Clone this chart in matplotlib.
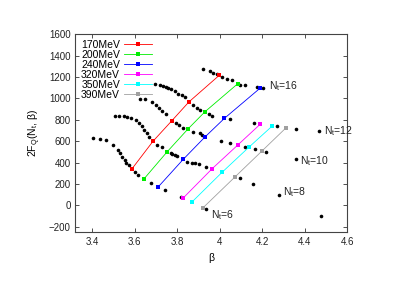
import numpy as np
import matplotlib
matplotlib.use('Agg')
import matplotlib.pyplot as plt

plt.rcParams['font.family'] = ['Liberation Sans', 'DejaVu Sans']
plt.rcParams['font.size'] = 7
plt.rcParams['mathtext.fontset'] = 'custom'
plt.rcParams['mathtext.rm'] = 'Liberation Sans'
plt.rcParams['mathtext.it'] = 'Liberation Sans'

# black dots: free energy curves for each N_t
b6 = [3.401, 3.438, 3.466, 3.495, 3.520, 3.529, 3.540, 3.552, 3.560, 3.572,
      3.600, 3.616, 3.676, 3.743, 3.817, 3.934]
f6 = [626, 616, 610, 566, 516, 485, 454, 422, 400, 375, 310, 288, 210, 143, 78, -35]

b8 = [3.506, 3.525, 3.548, 3.564, 3.580, 3.604, 3.620, 3.635, 3.643, 3.656,
      3.667, 3.706, 3.730, 3.768, 3.777, 3.789, 3.800, 3.844, 3.867, 3.883,
      3.904, 3.935, 4.097, 4.157, 4.278, 4.476]
f8 = [835, 838, 832, 823, 813, 799, 774, 737, 705, 673,
      641, 563, 541, 485, 477, 471, 461, 408, 399, 393,
      384, 362, 252, 204, 100, -100]

b10 = [3.623, 3.646, 3.683, 3.699, 3.714, 3.730, 3.746, 3.793, 3.808, 3.827,
       3.874, 3.907, 3.917, 4.007, 4.046, 4.120, 4.165, 4.220, 4.357]
f10 = [997, 994, 963, 934, 909, 878, 853, 770, 751, 723,
       685, 675, 657, 597, 582, 547, 530, 500, 432]

b12 = [3.694, 3.718, 3.732, 3.745, 3.758, 3.772, 3.788, 3.805, 3.820, 3.835,
       3.874, 3.893, 3.907, 3.950, 3.964, 4.050, 4.163, 4.270, 4.359, 4.468]
f12 = [1136, 1128, 1119, 1110, 1100, 1085, 1065, 1045, 1030, 1015,
       940, 912, 893, 855, 837, 804, 767, 741, 711, 694]

b16 = [3.923, 3.954, 3.970, 3.985, 4.010, 4.033, 4.057, 4.097, 4.120, 4.176, 4.202]
f16 = [1276, 1251, 1240, 1228, 1195, 1184, 1172, 1127, 1122, 1104, 1097]

# fixed temperature lines (N_t = 6, 8, 10, 12, 16)
temps = ['170MeV', '200MeV', '240MeV', '320MeV', '350MeV', '390MeV']
colors = ['#ff0000', '#00ee00', '#0000ff', '#ff00ff', '#00ffff', '#a0a0a0']
tb = [[3.586, 3.686, 3.774, 3.855, 3.997],
      [3.643, 3.752, 3.850, 3.930, 4.085],
      [3.710, 3.828, 3.930, 4.022, 4.190],
      [3.828, 3.965, 4.084, 4.190],
      [3.869, 4.010, 4.136, 4.247],
      [3.920, 4.072, 4.200, 4.313]]
tf = [[340, 600, 790, 967, 1214],
      [247, 500, 713, 874, 1137],
      [172, 430, 638, 813, 1095],
      [69, 344, 562, 757],
      [31, 307, 541, 741],
      [-25, 266, 510, 726]]

nt_labels = ['N$_t$=6', 'N$_t$=8', 'N$_t$=10', 'N$_t$=12', 'N$_t$=16']
nt_pos = [(3.957, -91), (4.300, 122), (4.378, 418), (4.490, 690), (4.231, 1110)]

fig = plt.figure(figsize=(3.99, 2.82), dpi=100)
ax = fig.add_axes([0.189, 0.177, 0.681, 0.702])

for b, f in [(b6, f6), (b8, f8), (b10, f10), (b12, f12), (b16, f16)]:
    ax.plot(b, f, 'o', color='black', ms=2.6, mew=0)

for name, c, b, f in zip(temps, colors, tb, tf):
    ax.plot(b, f, '-s', color=c, lw=0.6, ms=3, mew=0, label=name)

for txt, (x, y) in zip(nt_labels, nt_pos):
    ax.text(x, y, txt, ha='left', va='center', fontsize=7.5, color='#222222')

ax.set_xlim(3.32, 4.6)
ax.set_ylim(-250, 1600)
ax.set_xticks(np.arange(3.4, 4.61, 0.2))
ax.set_xticklabels(['3.4', '3.6', '3.8', '4', '4.2', '4.4', '4.6'])
ax.set_yticks(np.arange(-200, 1601, 200))
ax.tick_params(direction='in', length=3, top=True, right=True, colors='#333333',
               labelcolor='#222222', width=0.6)
for s in ax.spines.values():
    s.set_color('#444444')
    s.set_linewidth(0.8)

ax.set_xlabel('β', fontsize=7.5)
ax.set_ylabel('2F$_Q$(N$_t$, β)', fontsize=7.5)

ax.legend(loc='upper left', bbox_to_anchor=(0.0, 1.0), frameon=False, markerfirst=False,
          handlelength=2.7, handletextpad=0.4, labelspacing=0.0, borderaxespad=0.15,
          fontsize=7.5)

fig.savefig('out.png', dpi=100)
